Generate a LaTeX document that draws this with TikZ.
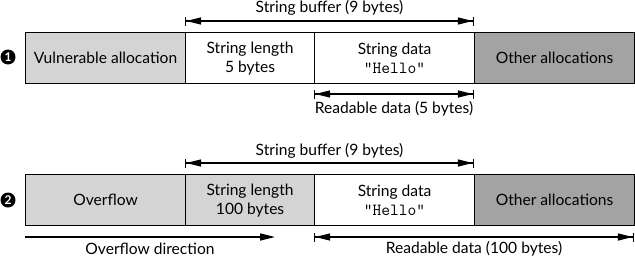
\documentclass[tikz,border=0pt]{standalone}
\usepackage{fontspec}
\setmainfont{Lato}
\usetikzlibrary{arrows.meta}
\newcommand{\hellotxt}{{\fontsize{17}{19}\selectfont\ttfamily"Hello"}}
\begin{document}
\begin{tikzpicture}[x=1pt,y=-1pt,
  cell/.style={draw=black, line width=1.2pt, minimum height=51pt, inner sep=0pt, align=center, font=\fontsize{15.6}{19}\selectfont, anchor=north west},
  light/.style={fill=black!17},
  dark/.style={fill=black!36},
  lbl/.style={font=\fontsize{15.6}{19}\selectfont, inner sep=0pt},
  marker/.style={circle, fill=black, text=white, inner sep=0pt, minimum size=15pt, font=\bfseries\fontsize{12}{12}\selectfont},
  dim/.style={line width=1.6pt, {Bar[width=9pt,line width=1.2pt]Triangle[length=15pt,width=7pt]}-{Triangle[length=15pt,width=7pt]Bar[width=9pt,line width=1.2pt]}},
  onearrow/.style={line width=1.6pt, -{Triangle[length=15pt,width=7pt]}}
]
\useasboundingbox (0,0) rectangle (635,260);
% Row 1
\node[marker] (m1) at (8,57) {1};
\node[cell, light, minimum width=160pt] (a1) at (25,32) {Vulnerable allocation};
\node[cell, minimum width=129pt] (b1) at (185,32) {String length\\5 bytes};
\node[cell, minimum width=160pt] (c1) at (314,32) {String data\\\hellotxt};
\node[cell, dark, minimum width=160pt] (d1) at (474,32) {Other allocations};
\coordinate (sb1s) at (185,21);
\coordinate (sb1e) at (474,21);
\draw[dim] (sb1s) -- (sb1e);
\node[lbl] (sb1) at (329.5,8) {String buffer (9 bytes)};
\coordinate (rd1s) at (314,94);
\coordinate (rd1e) at (474,94);
\draw[dim] (rd1s) -- (rd1e);
\node[lbl] (rd1) at (394,109) {Readable data (5 bytes)};
% Row 2
\node[marker] (m2) at (8,200) {2};
\node[cell, light, minimum width=160pt] (a2) at (25,174) {Overflow};
\node[cell, light, minimum width=129pt] (b2) at (185,174) {String length\\100 bytes};
\node[cell, minimum width=160pt] (c2) at (314,174) {String data\\\hellotxt};
\node[cell, dark, minimum width=160pt] (d2) at (474,174) {Other allocations};
\coordinate (sb2s) at (185,163);
\coordinate (sb2e) at (474,163);
\draw[dim] (sb2s) -- (sb2e);
\node[lbl] (sb2) at (329.5,151) {String buffer (9 bytes)};
\coordinate (ods) at (25,237);
\coordinate (ode) at (275,237);
\draw[onearrow] (ods) -- (ode);
\node[lbl] (od) at (150,249) {Overflow direction};
\coordinate (rd2s) at (314,237);
\coordinate (rd2e) at (634,237);
\draw[dim] (rd2s) -- (rd2e);
\node[lbl] (rd2) at (474,249) {Readable data (100 bytes)};
\end{tikzpicture}
\end{document}
